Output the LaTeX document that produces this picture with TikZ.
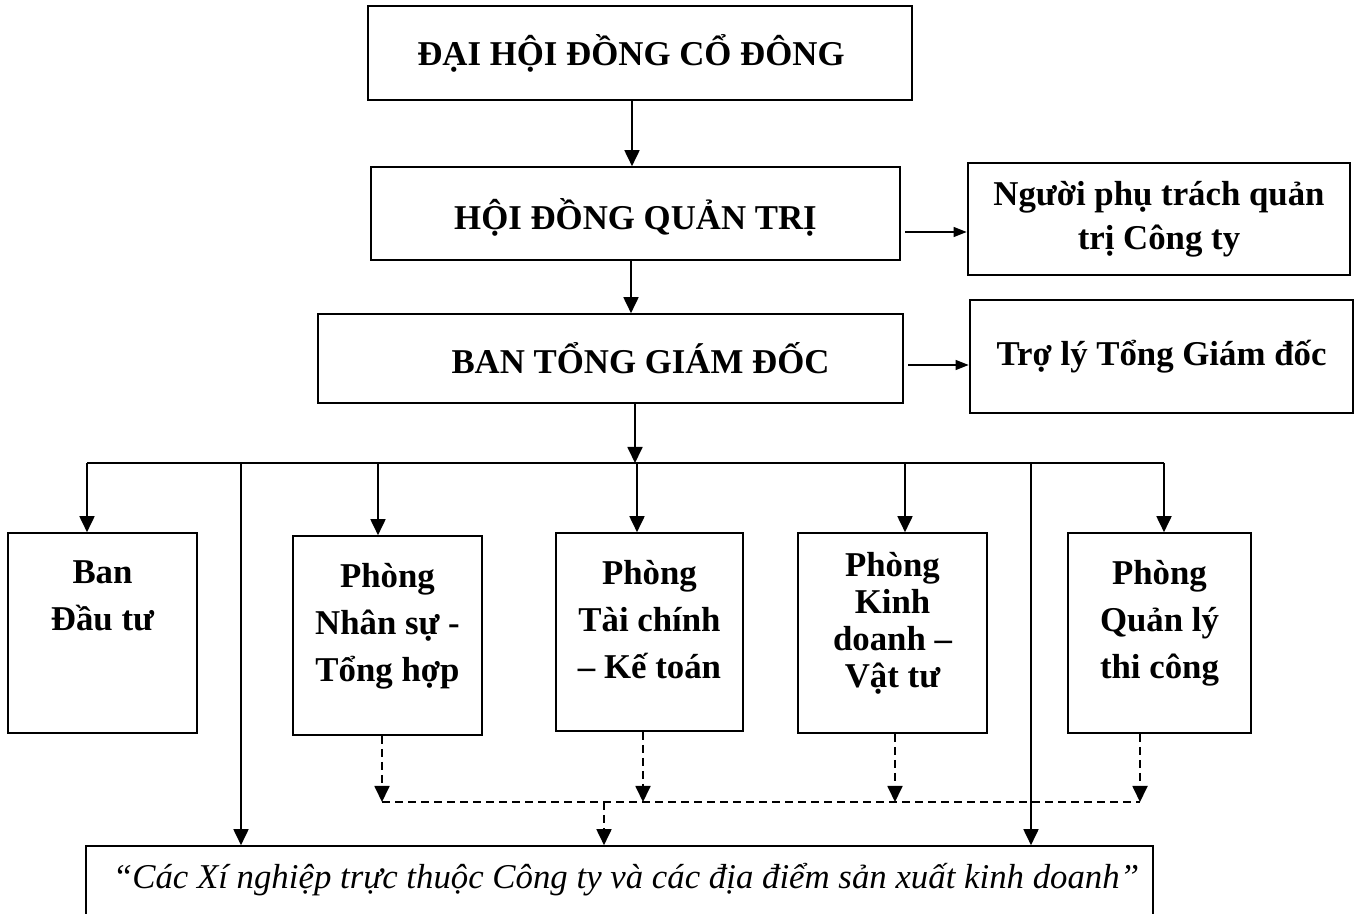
\documentclass[tikz,border=0pt]{standalone}
\usepackage{fontspec}
\setmainfont{Liberation Serif}
\usetikzlibrary{arrows.meta}

\begin{document}
\begin{tikzpicture}[
        x = 0.5pt, y = -0.5pt,
        box/.style = {draw, line width=0.8pt, inner sep=0pt},
        sidebox/.style = {draw, line width=1.4pt, inner sep=0pt, align=center,
          font=\bfseries\fontsize{17.4}{22}\selectfont},
        boxtxt/.style = {inner sep=0pt, align=center, font=\bfseries\fontsize{17.4}{23.5}\selectfont},
        kdtxt/.style = {boxtxt, font=\bfseries\fontsize{17.4}{18.5}\selectfont},
        arr/.style = {line width=0.9pt, -{Triangle[length=8pt,width=7.5pt]}},
        darr/.style = {arr, dash pattern=on 4pt off 2.5pt},
        sarr/.style = {line width=0.6pt, -{Triangle[length=6.5pt,width=5pt]}}]
      \useasboundingbox (0, 0) rectangle (1362, 914);
      \clip (0, 0) rectangle (1362, 914);
      \node [box, minimum width=272pt, minimum height=47pt,
        label={[boxtxt, xshift=-4.5pt]center:ĐẠI HỘI ĐỒNG CỔ ĐÔNG}] (dhdcd) at (640, 53) {};
      \node [box, minimum width=264.5pt, minimum height=46.5pt,
        label={[boxtxt, yshift=-2pt]center:HỘI ĐỒNG QUẢN TRỊ}] (hdqt) at (635.5, 213.5) {};
      \node [box, minimum width=292.5pt, minimum height=44.5pt,
        label={[boxtxt, xshift=15pt]center:BAN TỔNG GIÁM ĐỐC}] (btgd) at (610.5, 358.5) {};
      \node [sidebox, minimum width=191pt, minimum height=56pt] (nguoi) at (1159, 219)
        {Người phụ trách quản\\trị Công ty};
      \node [sidebox, minimum width=191.5pt, minimum height=56.5pt] (troly) at (1161.5, 356.5)
        {\raisebox{-1.5pt}{Trợ lý Tổng Giám đốc}};
      \node [box, minimum width=94.5pt, minimum height=100pt,
        label={[boxtxt, anchor=north, yshift=-14pt]north:Ban\\Đầu tư}] (ban) at (102.5, 633) {};
      \node [box, minimum width=94.5pt, minimum height=99.5pt,
        label={[boxtxt, anchor=north, yshift=-14pt]north:Phòng\\Nhân sự -\\Tổng hợp}] (nhansu) at (387.5, 635.5) {};
      \node [box, minimum width=93.5pt, minimum height=99pt,
        label={[boxtxt, anchor=north, yshift=-14pt]north:Phòng\\Tài chính\\– Kế toán}] (taichinh) at (649.5, 632) {};
      \node [box, minimum width=94.5pt, minimum height=100pt,
        label={[kdtxt, anchor=north, yshift=-10pt]north:Phòng\\Kinh\\doanh –\\Vật tư}] (kinhdoanh) at (892.5, 633) {};
      \node [box, minimum width=91.5pt, minimum height=100pt,
        label={[boxtxt, anchor=north, yshift=-14pt]north:Phòng\\Quản lý\\thi công}] (quanly) at (1159.5, 633) {};
      \node [box, minimum width=533.5pt, minimum height=47pt,
        label={[inner sep=0pt, xshift=3.25pt, yshift=6.5pt, font=\itshape\fontsize{17.4}{20}\selectfont]center:“Các Xí nghiệp trực thuộc Công ty và các địa điểm sản xuất kinh doanh”}] (xn) at (619.5, 893) {};
      \coordinate (busL) at (87, 463);
      \coordinate (busR) at (1164, 463);
      \coordinate (dL) at (382, 802);
      \coordinate (dR) at (1140, 802);
      \coordinate (h1) at (905, 232);
      \coordinate (b1) at (908, 365);
      \draw [arr] (632, 0 |- dhdcd.south) -- (632, 0 |- hdqt.north);
      \draw [arr] (631, 0 |- hdqt.south) -- (631, 0 |- btgd.north);
      \draw [arr] (635, 0 |- btgd.south) -- (635, 0 |- busL);
      \draw [sarr] (h1) -- (h1 -| nguoi.west);
      \draw [sarr] (b1) -- (b1 -| troly.west);
      \draw [line width=0.9pt] (busL) -- (busR);
      \foreach \x/\n in {87/ban, 378/nhansu, 637/taichinh, 905/kinhdoanh, 1164/quanly}
        \draw [arr] (\x, 0 |- busL) -- (\x, 0 |- \n.north);
      \foreach \x in {241, 1031}
        \draw [arr] (\x, 0 |- busL) -- (\x, 0 |- xn.north);
      \foreach \x/\n in {382/nhansu, 643/taichinh, 895/kinhdoanh, 1140/quanly}
        \draw [darr] (\x, 0 |- \n.south) -- (\x, 0 |- dL);
      \draw [line width=0.9pt, dash pattern=on 4pt off 2.5pt] (dL) -- (dR);
      \draw [darr] (604, 0 |- dL) -- (604, 0 |- xn.north);
    \end{tikzpicture}
\end{document}
